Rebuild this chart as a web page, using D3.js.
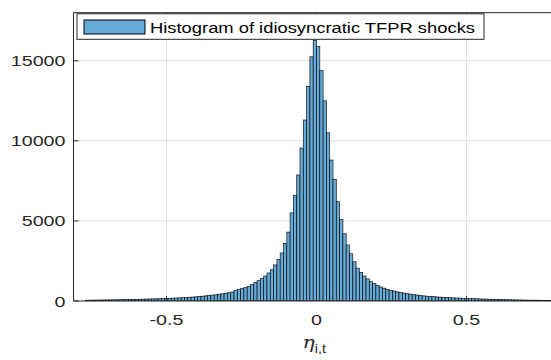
<!DOCTYPE html>
<html><head><meta charset="utf-8">
<script src="https://cdn.jsdelivr.net/npm/d3@7"></script>
<style>body{margin:0;background:#fff}svg{display:block}</style>
</head><body>
<script>
// ---- data ----
const binStart = -0.77;
const binWidth = 0.011;
const counts = [
 48,51,54,57,60,63,66,69,73,77,81,85,89,93,98,103,108,113,119,125,131,138,145,152,160,
 168,176,185,195,205,218,232,246,262,280,300,320,345,365,390,420,450,480,520,560,
 650,710,770,840,920,1020,1150,1270,1400,1560,1750,1950,2250,2600,3000,3600,4300,5500,6600,7870,
 9550,11300,13400,15250,16270,
 15900,14400,12500,10500,8800,7600,6200,5100,4200,3500,
 2950,2450,2050,1780,1560,1380,1220,1090,980,880,
 800,730,670,620,570,530,490,455,425,395,
 370,345,320,300,285,270,255,240,228,215,
 205,195,185,175,168,160,150,145,138,130,
 122,115,108,102,96,90,85,80,76,72,
 68,64,60,56,53,50,47,44,42,40,38,36
];
const xTicks = [-0.5, 0, 0.5];
const xTickLabels = ["-0.5", "0", "0.5"];
const yTicks = [0, 5000, 10000, 15000];
const yTickLabels = ["0", "5000", "10000", "15000"];
const legendLabel = "Histogram of idiosyncratic TFPR shocks";
const xDomain = [-0.81, 0.81];
const yDomain = [0, 18000];

// ---- layout ----
const W = 551, H = 360;
const m = {left: 73.5, top: 12.7, bottom: 301};
const x = d3.scaleLinear().domain(xDomain).range([m.left, m.left + 486]);
const y = d3.scaleLinear().domain(yDomain).range([m.bottom, m.top]);
const SX = 1.27; // horizontal text stretch of the reference
const font = "'Liberation Sans', Arial, sans-serif";
const axisCol = "#262626";

const svg = d3.select("body").append("svg").attr("width", W).attr("height", H);
svg.append("defs").append("clipPath").attr("id", "clip")
  .append("rect").attr("x", x.range()[0]).attr("y", y.range()[1])
  .attr("width", x.range()[1] - x.range()[0]).attr("height", y.range()[0] - y.range()[1]);

// grid
const g = svg.append("g");
g.selectAll(".gx").data(xTicks).join("line")
  .attr("x1", d => x(d)).attr("x2", d => x(d))
  .attr("y1", y.range()[0]).attr("y2", y.range()[1])
  .attr("stroke", "#e0e0e0").attr("stroke-width", 1);
g.selectAll(".gy").data(yTicks.filter(d => d > 0)).join("line")
  .attr("x1", x.range()[0]).attr("x2", x.range()[1])
  .attr("y1", d => y(d)).attr("y2", d => y(d))
  .attr("stroke", "#e0e0e0").attr("stroke-width", 1);

// bars
const bins = counts.map((c, i) => ({x0: binStart + i * binWidth, x1: binStart + (i + 1) * binWidth, c}));
svg.append("g").attr("clip-path", "url(#clip)")
  .selectAll("rect").data(bins).join("rect")
  .attr("x", d => x(d.x0)).attr("width", d => x(d.x1) - x(d.x0))
  .attr("y", d => y(d.c)).attr("height", d => y(0) - y(d.c))
  .attr("fill", "#66AAD7")
  .attr("stroke", "#000").attr("stroke-width", 0.7).attr("stroke-opacity", 0.9);

// axes box
const ax = svg.append("g").attr("fill", "none").attr("stroke", axisCol).attr("stroke-width", 1);
ax.append("line").attr("x1", x.range()[0]).attr("x2", x.range()[0]).attr("y1", y.range()[0]).attr("y2", y.range()[1]);
ax.append("line").attr("x1", x.range()[0]).attr("x2", x.range()[1]).attr("y1", y.range()[0]).attr("y2", y.range()[0]);
ax.append("line").attr("x1", x.range()[0]).attr("x2", x.range()[1]).attr("y1", y.range()[1]).attr("y2", y.range()[1]);
// inward ticks
ax.selectAll(".ty").data(yTicks).join("line")
  .attr("x1", x.range()[0]).attr("x2", x.range()[0] + 5)
  .attr("y1", d => y(d)).attr("y2", d => y(d));
ax.selectAll(".tx").data(xTicks).join("line")
  .attr("x1", d => x(d)).attr("x2", d => x(d))
  .attr("y1", y.range()[0]).attr("y2", y.range()[0] - 5);
ax.selectAll(".txt").data(xTicks).join("line")
  .attr("x1", d => x(d)).attr("x2", d => x(d))
  .attr("y1", y.range()[1]).attr("y2", y.range()[1] + 5);

// tick labels
svg.selectAll(".yl").data(yTicks).join("text")
  .attr("transform", d => `translate(${x.range()[0] - 8},${y(d) + 5.5}) scale(${SX},1)`)
  .attr("text-anchor", "end").attr("font-family", font).attr("font-size", 15.5)
  .attr("fill", axisCol).text((d, i) => yTickLabels[i]);
svg.selectAll(".xl").data(xTicks).join("text")
  .attr("transform", d => `translate(${x(d)},${y(0) + 24}) scale(${SX},1)`)
  .attr("text-anchor", "middle").attr("font-family", font).attr("font-size", 15.5)
  .attr("fill", axisCol).text((d, i) => xTickLabels[i]);

// x axis label eta_{i,t}
const xl = svg.append("text")
  .attr("transform", `translate(${x(0) - 14},348) scale(1.2,1)`)
  .attr("font-family", "'DejaVu Serif', 'Liberation Serif', serif").attr("font-style", "italic")
  .attr("font-size", 17).attr("fill", axisCol);
xl.append("tspan").text("η");
xl.append("tspan").attr("dy", 5).attr("font-size", 12).attr("font-style", "normal")
  .attr("font-family", font).text("i,t");

// legend
const lg = svg.append("g");
lg.append("rect").attr("x", 77).attr("y", 13.8).attr("width", 407).attr("height", 25.5)
  .attr("fill", "#fff").attr("stroke", axisCol).attr("stroke-width", 1);
lg.append("rect").attr("x", 84).attr("y", 20).attr("width", 61).attr("height", 14)
  .attr("fill", "#66AAD7").attr("stroke", "#000").attr("stroke-width", 1);
lg.append("text").attr("x", 150).attr("y", 32.5)
  .attr("font-family", font).attr("font-size", 15.5).attr("fill", "#000")
  .attr("textLength", 325).attr("lengthAdjust", "spacingAndGlyphs")
  .text(legendLabel);
</script>
</body></html>
